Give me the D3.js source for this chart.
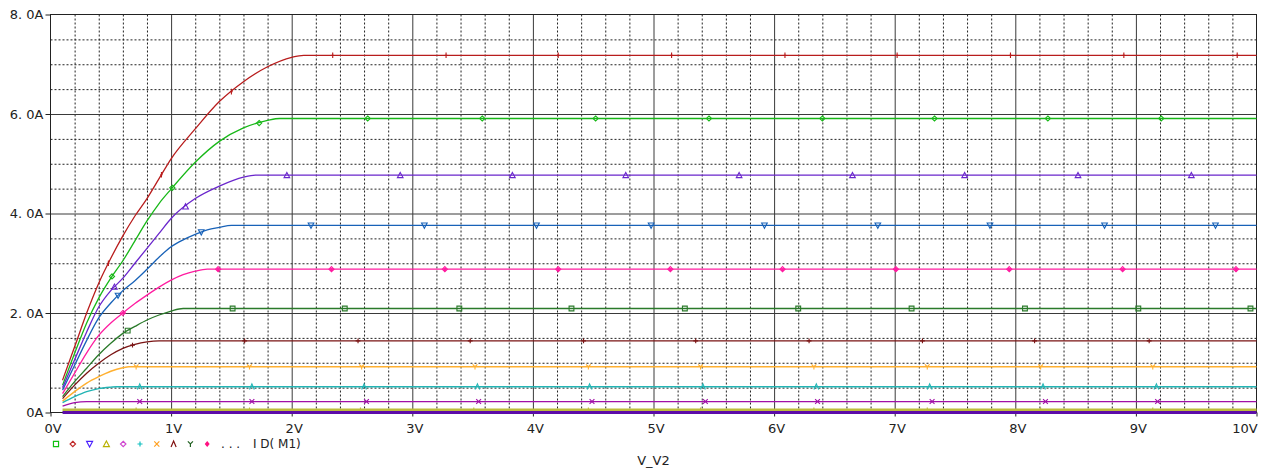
<!DOCTYPE html>
<html>
<head>
<meta charset="utf-8">
<script src="https://cdn.jsdelivr.net/npm/d3@7"></script>
<style>
  body { margin: 0; background: #fff; }
  svg { display: block; font-family: "DejaVu Sans", sans-serif; }
</style>
</head>
<body>
<div id="chart"></div>
<script>
// ID(M1) vs V_V2, one trace per gate step - [volts, amps]
const trace1 = [[0.1,0.65],[0.2,1.32],[0.3,2.0],[0.4,2.6],[0.5,3.1],[0.6,3.55],[0.7,3.95],[0.8,4.3],[0.9,4.7],[1.0,5.1],[1.2,5.7],[1.4,6.25],[1.6,6.65],[1.8,6.95],[2.0,7.14],[2.1,7.18],[10,7.18]]
const trace2 = [[0.1,0.55],[0.2,1.19],[0.3,1.8],[0.4,2.3],[0.5,2.7],[0.6,3.05],[0.7,3.45],[0.8,3.85],[0.9,4.2],[1.0,4.49],[1.2,5.03],[1.4,5.45],[1.6,5.72],[1.8,5.87],[1.9,5.91],[10,5.91]]
const trace3 = [[0.1,0.5],[0.2,1.06],[0.3,1.62],[0.4,2.12],[0.5,2.45],[0.6,2.7],[0.7,3.0],[0.8,3.3],[0.9,3.6],[1.0,3.9],[1.2,4.3],[1.4,4.55],[1.6,4.73],[1.7,4.77],[10,4.77]]
const trace4 = [[0.1,0.45],[0.2,0.95],[0.3,1.45],[0.4,1.9],[0.5,2.2],[0.6,2.45],[0.7,2.65],[0.8,2.88],[0.9,3.12],[1.0,3.33],[1.1,3.47],[1.2,3.58],[1.3,3.67],[1.4,3.72],[1.5,3.76],[10,3.76]]
const trace5 = [[0.1,0.38],[0.2,0.79],[0.3,1.2],[0.4,1.55],[0.5,1.8],[0.6,2.0],[0.7,2.19],[0.8,2.36],[0.9,2.52],[1.0,2.66],[1.1,2.77],[1.2,2.84],[1.3,2.88],[10,2.88]]
const trace6 = [[0.1,0.32],[0.2,0.62],[0.3,0.89],[0.4,1.16],[0.5,1.39],[0.6,1.59],[0.7,1.73],[0.8,1.86],[0.9,1.96],[1.0,2.04],[1.1,2.09],[10,2.09]]
const trace7 = [[0.1,0.28],[0.2,0.55],[0.3,0.79],[0.4,0.99],[0.5,1.16],[0.6,1.29],[0.7,1.37],[0.8,1.42],[0.9,1.44],[10,1.44]]
const trace8 = [[0.1,0.23],[0.2,0.42],[0.3,0.59],[0.4,0.72],[0.5,0.83],[0.6,0.9],[0.65,0.92],[10,0.92]]
const trace9 = [[0.1,0.2],[0.2,0.32],[0.3,0.42],[0.4,0.48],[0.5,0.51],[0.55,0.52],[10,0.52]]
const trace10 = [[0.1,0.13],[0.2,0.2],[0.3,0.22],[10,0.22]]
const trace11 = [[0.1,0.05],[10,0.05]]
const trace12 = [[0.1,0.0],[10,0.0]]

// where the marker symbols sit on each trace (volts)
const marks1 = [0.48,0.92,1.5,2.34,3.28,4.21,5.15,6.09,7.02,7.96,8.9,9.84]
const marks2 = [0.51,1.01,1.73,2.63,3.58,4.52,5.46,6.4,7.33,8.27,9.21]
const marks3 = [0.53,1.12,1.96,2.9,3.83,4.77,5.71,6.65,7.58,8.52,9.46]
const marks4 = [0.56,1.25,2.16,3.1,4.03,4.98,5.92,6.86,7.79,8.74,9.66]
const marks5 = [0.6,1.39,2.33,3.27,4.21,5.14,6.07,7.01,7.95,8.89,9.83]
const marks6 = [0.64,1.51,2.44,3.39,4.32,5.26,6.2,7.14,8.08,9.02,9.95]
const marks7 = [0.68,1.61,2.55,3.48,4.42,5.35,6.29,7.23,8.16,9.11]
const marks8 = [0.71,1.65,2.58,3.52,4.46,5.39,6.33,7.27,8.21,9.14]
const marks9 = [0.74,1.67,2.6,3.54,4.47,5.41,6.35,7.29,8.23,9.17]
const marks10 = [0.74,1.67,2.62,3.55,4.49,5.43,6.36,7.31,8.25,9.18]
const marks11 = [0.71,1.65,2.57,3.51,4.46,5.39,6.33,7.27,8.21,9.14]
const marks12 = []

const xTickLabels = ["0V","1V","2V","3V","4V","5V","6V","7V","8V","9V","10V"]
const yTickLabels = ["0A","2. 0A","4. 0A","6. 0A","8. 0A"]
const legendLabel = "I D( M1)"
const xTitle = "V_V2"

// styling, kept apart from the values
const traceStyle = [
    {color: "#b81c1c", shape: "tick", width: 1.3},
    {color: "#18b818", shape: "diamond", width: 1.3},
    {color: "#6a26cc", shape: "triUp", width: 1.3},
    {color: "#1862b8", shape: "triDown", width: 1.3},
    {color: "#ff1ca0", shape: "diamondX", width: 1.3},
    {color: "#2a7a2a", shape: "square", width: 1.3},
    {color: "#7a1414", shape: "plus", width: 1.3},
    {color: "#ffb030", shape: "Y", width: 1.5},
    {color: "#22b4b4", shape: "caret", width: 1.5},
    {color: "#a010a8", shape: "x", width: 1.3},
    {color: "#bcbc3c", shape: "plus", width: 3},
    {color: "#5c0ca8", shape: null, width: 3},
]
const traces = [trace1,trace2,trace3,trace4,trace5,trace6,trace7,trace8,trace9,trace10,trace11,trace12]
const marks = [marks1,marks2,marks3,marks4,marks5,marks6,marks7,marks8,marks9,marks10,marks11,marks12]

const legendSymbols = [
    {shape: "square", color: "#10c010"},
    {shape: "diamond", color: "#c02828"},
    {shape: "triDown", color: "#4a20ff"},
    {shape: "triUp", color: "#b8b000"},
    {shape: "diamond", color: "#d048d0"},
    {shape: "plus", color: "#10c0c0"},
    {shape: "x", color: "#ffa020"},
    {shape: "caret", color: "#801010"},
    {shape: "Y", color: "#206020"},
    {shape: "dot", color: "#ff1080"},
]

const shapes = {
    square: "M-3,-3H3V3H-3Z",
    diamond: "M0,-3.2L3.2,0L0,3.2L-3.2,0Z",
    diamondX: "M0,-3.2L3.2,0L0,3.2L-3.2,0ZM-1.6,-1.6L1.6,1.6M1.6,-1.6L-1.6,1.6",
    triUp: "M0,-3.5L3.5,3L-3.5,3Z",
    triDown: "M-3.5,-3L3.5,-3L0,3.5Z",
    plus: "M-3,0H3M0,-3V3",
    x: "M-3,-3L3,3M3,-3L-3,3",
    Y: "M-3,-3L0,0L3,-3M0,0V3.5",
    caret: "M-3,3.5L0,-3.5L3,3.5",
    tick: "M0,-3.5V3.5M-1.5,0H1.5",
    dot: "M0,-2.5L2,0L0,2.5L-2,0Z",
}

const width = 1271, height = 470
const x = d3.scaleLinear().domain([0, 10]).range([50.5, 1256.5])
const y = d3.scaleLinear().domain([0, 8]).range([412.5, 14.5])

const svg = d3.select("#chart").append("svg")
    .attr("width", width)
    .attr("height", height)

// minor dotted grid
svg.append("g")
    .attr("transform", `translate(0,${y(0)})`)
    .call(d3.axisBottom(x)
        .tickValues(d3.range(1, 50).map(i => i / 5).filter(v => Math.abs(v - Math.round(v)) > 1e-6))
        .tickSize(-(y(0) - y(8)))
        .tickFormat(""))
    .call(g => g.select(".domain").remove())
    .call(g => g.selectAll(".tick line")
        .attr("stroke", "#222")
        .attr("stroke-dasharray", "2,2"))

svg.append("g")
    .attr("transform", `translate(${x(0)},0)`)
    .call(d3.axisLeft(y)
        .tickValues(d3.range(1, 16).map(i => i / 2).filter(v => v % 2 !== 0))
        .tickSize(-(x(10) - x(0)))
        .tickFormat(""))
    .call(g => g.select(".domain").remove())
    .call(g => g.selectAll(".tick line")
        .attr("stroke", "#222")
        .attr("stroke-dasharray", "2,2"))

// major solid grid
svg.append("g")
    .attr("transform", `translate(0,${y(0)})`)
    .call(d3.axisBottom(x).tickValues(d3.range(1, 10)).tickSize(-(y(0) - y(8))).tickFormat(""))
    .call(g => g.select(".domain").remove())
    .call(g => g.selectAll(".tick line").attr("stroke", "#3a3a3a"))

svg.append("g")
    .attr("transform", `translate(${x(0)},0)`)
    .call(d3.axisLeft(y).tickValues([2, 4, 6]).tickSize(-(x(10) - x(0))).tickFormat(""))
    .call(g => g.select(".domain").remove())
    .call(g => g.selectAll(".tick line").attr("stroke", "#3a3a3a"))

// frame
svg.append("rect")
    .attr("x", x(0))
    .attr("y", y(8))
    .attr("width", x(10) - x(0))
    .attr("height", y(0) - y(8))
    .attr("fill", "none")
    .attr("stroke", "#222")

// axes with labels
svg.append("g")
    .attr("transform", `translate(0,${y(0)})`)
    .call(d3.axisBottom(x)
        .tickValues(d3.range(0, 11))
        .tickSize(4)
        .tickPadding(7)
        .tickFormat((d, i) => xTickLabels[i]))
    .call(g => g.select(".domain").remove())
    .call(g => g.selectAll(".tick line").attr("stroke", "#222"))
    .call(g => g.selectAll(".tick text")
        .attr("font-size", 13)
        .attr("font-family", "DejaVu Sans")
        .attr("fill", "#222")
        .attr("dx", (d, i) => i === 10 ? -12 : 2))

svg.append("g")
    .attr("transform", `translate(${x(0)},0)`)
    .call(d3.axisLeft(y)
        .tickValues([0, 2, 4, 6, 8])
        .tickSize(5)
        .tickPadding(2)
        .tickFormat((d, i) => yTickLabels[i]))
    .call(g => g.select(".domain").remove())
    .call(g => g.selectAll(".tick line").attr("stroke", "#222"))
    .call(g => g.selectAll(".tick text")
        .attr("font-size", 13)
        .attr("font-family", "DejaVu Sans")
        .attr("fill", "#222"))

// traces
const line = d3.line()
    .x(d => x(d[0]))
    .y(d => y(d[1]))
    .curve(d3.curveMonotoneX)

const plot = svg.append("g").attr("class", "traces")

traces.forEach((data, i) => {
    const st = traceStyle[i]
    plot.append("path")
        .datum(data)
        .attr("d", line)
        .attr("fill", "none")
        .attr("stroke", st.color)
        .attr("stroke-width", st.width)

    // marker symbols sit on the trace, so interpolate the value at each mark
    const vs = data.map(d => d[0])
    const is = data.map(d => d[1])
    if (st.shape) {
        plot.append("g")
            .selectAll("path")
            .data(marks[i])
            .join("path")
            .attr("transform", v => {
                const k = Math.min(d3.bisectLeft(vs, v), vs.length - 1)
                const k0 = Math.max(k - 1, 0)
                const t = vs[k] === vs[k0] ? 0 : (v - vs[k0]) / (vs[k] - vs[k0])
                const amps = is[k0] + t * (is[k] - is[k0])
                return `translate(${x(v)},${y(amps)}) scale(0.8)`
            })
            .attr("d", shapes[st.shape])
            .attr("fill", "none")
            .attr("stroke", st.color)
            .attr("stroke-width", 1.4)
    }
})

// legend
const legend = svg.append("g")
    .attr("font-family", "DejaVu Sans")
    .attr("font-size", 12)
    .attr("fill", "#222")

legend.selectAll("path")
    .data(legendSymbols)
    .join("path")
    .attr("transform", (d, i) => `translate(${56 + i * 16.8},444) scale(0.85)`)
    .attr("d", d => shapes[d.shape])
    .attr("fill", d => d.shape === "dot" ? d.color : "none")
    .attr("stroke", d => d.color)
    .attr("stroke-width", 1.4)

legend.append("text")
    .attr("x", 221)
    .attr("y", 448)
    .text(". . .")

legend.append("text")
    .attr("x", 253)
    .attr("y", 448)
    .text(legendLabel)

svg.append("text")
    .attr("x", (x(0) + x(10)) / 2)
    .attr("y", 465)
    .attr("text-anchor", "middle")
    .attr("font-family", "DejaVu Sans")
    .attr("font-size", 13)
    .attr("fill", "#222")
    .text(xTitle)
</script>
</body>
</html>
